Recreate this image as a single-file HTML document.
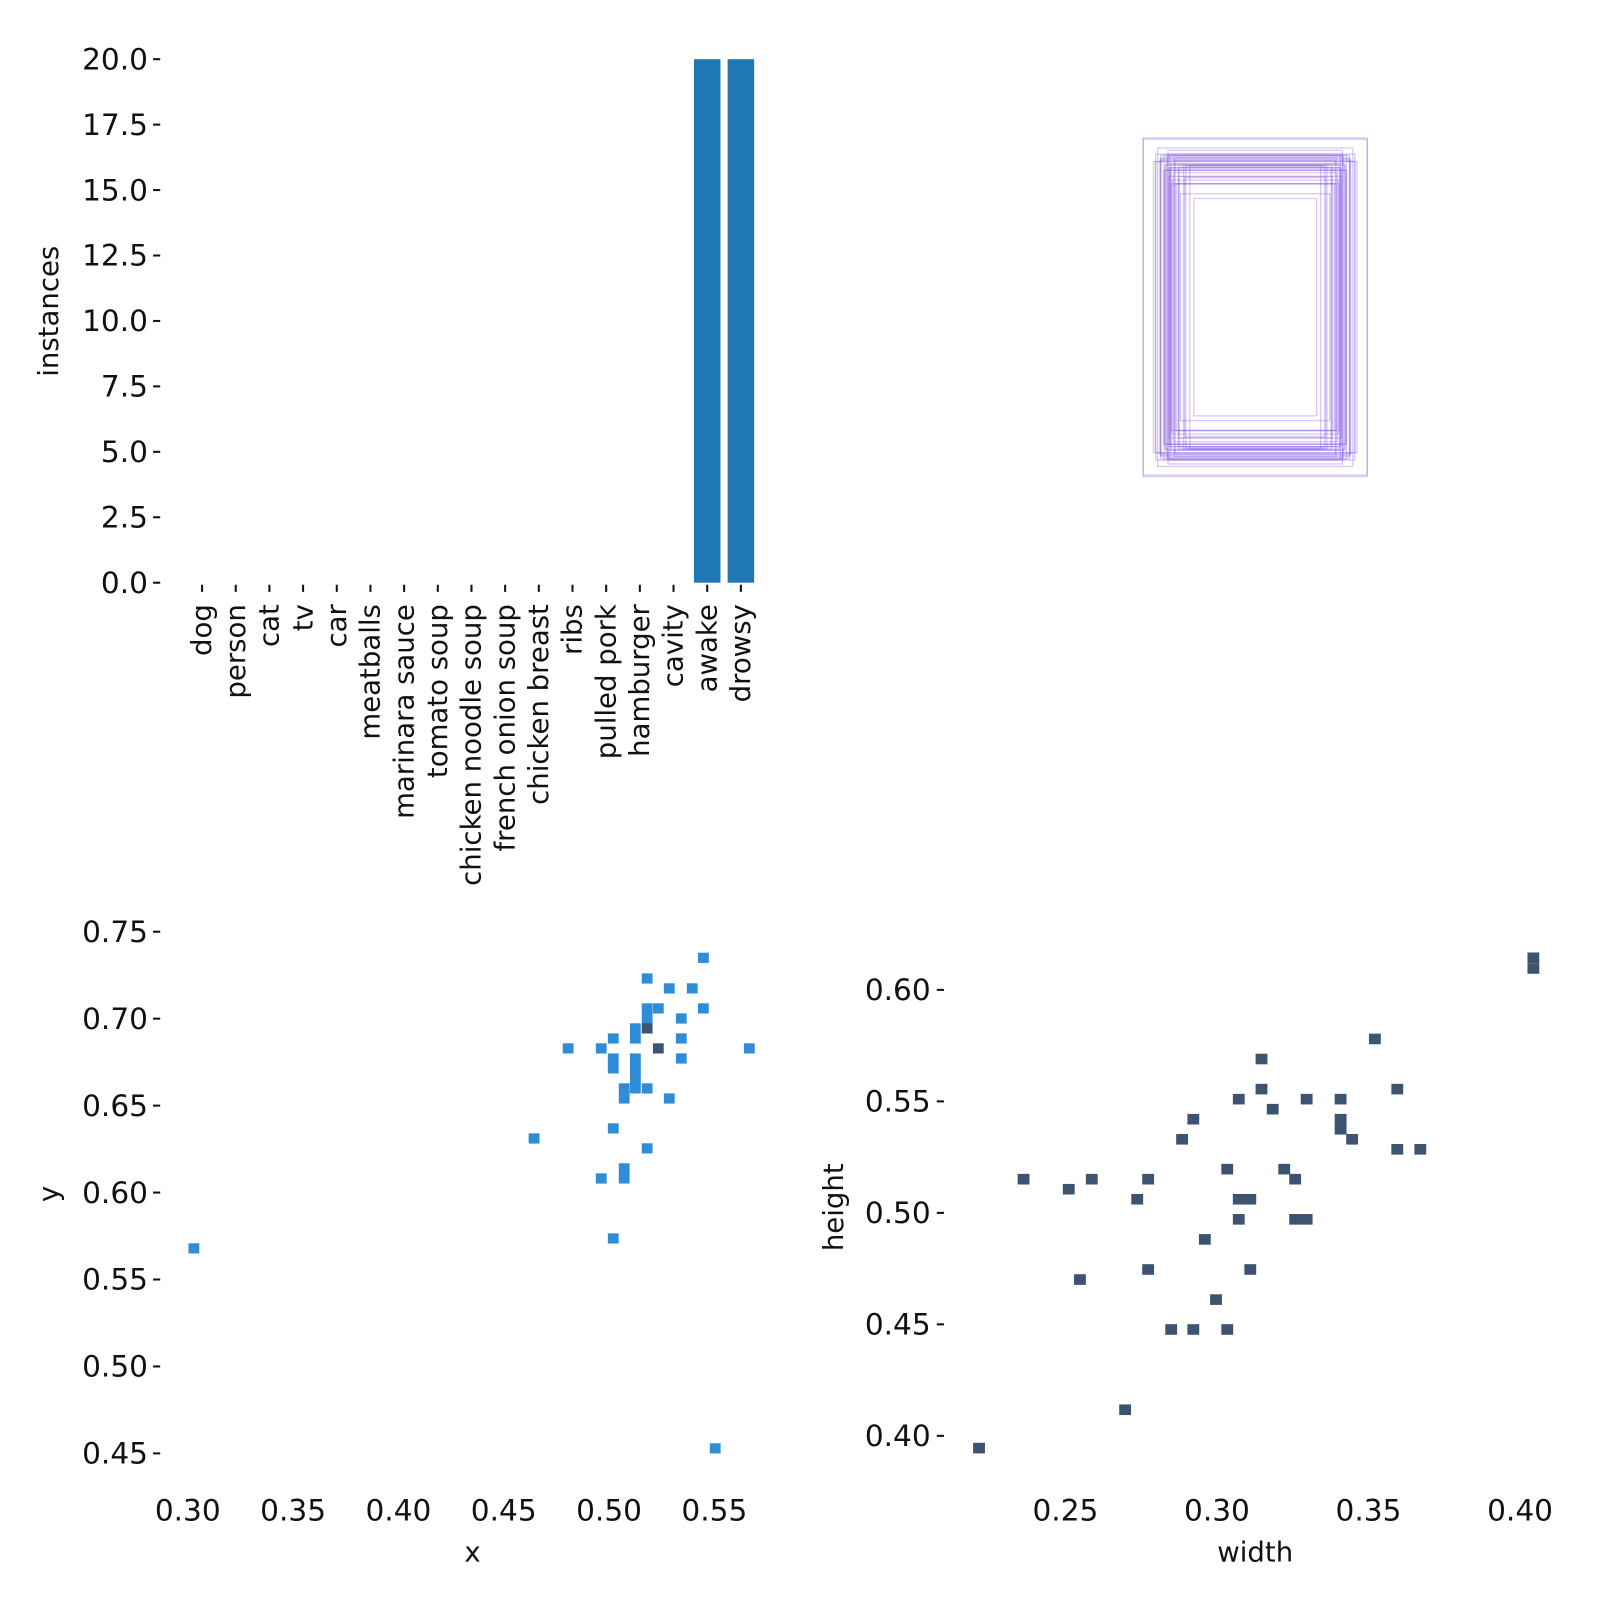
<!DOCTYPE html>
<html><head><meta charset="utf-8"><style>
html,body{margin:0;padding:0;background:#fff}
svg{display:block;font-family:"DejaVu Sans","Liberation Sans",sans-serif}
</style></head><body>
<svg width="1600" height="1600" viewBox="0 0 1600 1600"><g id="s" transform="scale(1.0205)"></g></svg>
<script>
// ---- bar chart data ----
const categories=["dog","person","cat","tv","car","meatballs","marinara sauce","tomato soup","chicken noodle soup","french onion soup","chicken breast","ribs","pulled pork","hamburger","cavity","awake","drowsy"];
const instances=[0,0,0,0,0,0,0,0,0,0,0,0,0,0,0,20,20];
const barYTicks=[0,2.5,5,7.5,10,12.5,15,17.5,20];
// ---- x/y histogram data ----
const xyX=[0.5448,0.5181,0.5286,0.5395,0.5181,0.5234,0.5448,0.5181,0.5343,0.5125,0.5181,0.5020,0.5125,0.5343,0.4806,0.4963,0.5234,0.5666,0.5020,0.5125,0.5343,0.5020,0.5125,0.5125,0.5072,0.5125,0.5181,0.5072,0.5286,0.5020,0.4644,0.5181,0.5072,0.4963,0.5072,0.5020,0.3029,0.5504];
const xyY=[0.7350,0.7231,0.7174,0.7174,0.7059,0.7059,0.7059,0.7001,0.7001,0.6944,0.6944,0.6886,0.6886,0.6886,0.6829,0.6829,0.6829,0.6829,0.6771,0.6771,0.6771,0.6714,0.6714,0.6656,0.6599,0.6599,0.6599,0.6541,0.6541,0.6369,0.6311,0.6254,0.6139,0.6081,0.6081,0.5736,0.5679,0.4529];
const xyCount=[1,1,1,1,1,1,1,1,1,1,2,1,1,1,1,1,2,1,1,1,1,1,1,1,1,1,1,1,1,1,1,1,1,1,1,1,1,1];
const xTicks=[0.30,0.35,0.40,0.45,0.50,0.55];
const yTicks=[0.45,0.50,0.55,0.60,0.65,0.70,0.75];
// ---- width/height histogram data ----
const whW=[0.4044,0.4044,0.3521,0.3147,0.3147,0.3595,0.3072,0.3296,0.3408,0.3184,0.2922,0.3408,0.3408,0.2885,0.3446,0.3595,0.3671,0.3034,0.3222,0.2362,0.2587,0.2773,0.3258,0.2511,0.2737,0.3072,0.3110,0.3072,0.3258,0.3296,0.2960,0.2773,0.3110,0.2548,0.2997,0.2849,0.2922,0.3034,0.2697,0.2215];
const whH=[0.6144,0.6096,0.5780,0.5690,0.5555,0.5555,0.5510,0.5510,0.5510,0.5465,0.5420,0.5420,0.5375,0.5330,0.5330,0.5285,0.5285,0.5196,0.5196,0.5151,0.5151,0.5151,0.5151,0.5106,0.5061,0.5061,0.5061,0.4971,0.4971,0.4971,0.4881,0.4746,0.4746,0.4701,0.4611,0.4477,0.4477,0.4477,0.4117,0.3945];
const wTicks=[0.25,0.30,0.35,0.40];
const hTicks=[0.40,0.45,0.50,0.55,0.60];

const S=document.getElementById('s');const NS='http://www.w3.org/2000/svg';
const NUM=29, WORD=27;
function mk(tag,at,parent){const e=document.createElementNS(NS,tag);for(const k in at)e.setAttribute(k,at[k]);(parent||S).appendChild(e);return e;}
function txt(x,y,s,anchor,extra,size){const t=mk('text',Object.assign({x:x,y:y,'font-size':size||WORD,fill:'#111','text-anchor':anchor||'middle'},extra||{}));t.textContent=s;return t;}

// ===== Bar chart =====
const bY=v=>571-(v/20)*513;
const bX=i=>198+i*33;
const g1=mk('g',{});


barYTicks.forEach(v=>{
  const l=mk('line',{x1:150,x2:157,y1:bY(v),y2:bY(v),stroke:'#111','stroke-width':2},g1);
  
  
  const t=txt(145,bY(v)+10,v.toFixed(1),'end',null,NUM);g1.appendChild(t);
  
  
});
categories.forEach((c,i)=>{
  if(instances[i]>0){
    const r=mk('rect',{x:bX(i)-13,y:bY(instances[i]),width:26,height:bY(0)-bY(instances[i]),fill:'#1f77b4'},g1);
    
    
  }
  const l=mk('line',{x1:bX(i),x2:bX(i),y1:573,y2:580,stroke:'#111','stroke-width':2},g1);
  
  
  const t=txt(0,0,c,'end',{transform:'translate('+(bX(i)+9)+',592) rotate(-90)'});g1.appendChild(t);
  
  
});
const yl=txt(0,0,'instances','middle',{transform:'translate(57,305) rotate(-90)'});



// ===== Boxes overlay =====
const g2=mk('g',{});


whW.forEach((w,i)=>{
  const bw=w*543,bh=whH[i]*540;
  const r=mk('rect',{x:1230-bw/2,y:301-bh/2,width:bw,height:bh,fill:'none',stroke:'#7e4fe0','stroke-opacity':0.3,'stroke-width':1.3},g2);
  
  
});

// ===== x/y histogram =====
const xX=v=>184+(v-0.30)*2064;
const xY=v=>913+(0.75-v)*1704;
const g3=mk('g',{});


xyX.forEach((v,i)=>{
  const r=mk('rect',{x:xX(v)-5.3,y:xY(xyY[i])-5,width:10.6,height:10,fill:xyCount[i]>1?'#3d5470':'#2e8dd6'},g3);
  
  
});
yTicks.forEach(v=>{
  const l=mk('line',{x1:150,x2:157,y1:xY(v),y2:xY(v),stroke:'#111','stroke-width':2},g3);
  
  
  const t=txt(145,xY(v)+10,v.toFixed(2),'end',null,NUM);g3.appendChild(t);
  
  
});
xTicks.forEach(v=>{
  const t=txt(xX(v),1490,v.toFixed(2),'middle',null,NUM);g3.appendChild(t);
  
  
});
const xt=txt(463,1530,'x');
const yt=txt(0,0,'y','middle',{transform:'translate(57,1170) rotate(-90)'});

// ===== width/height histogram =====
const wX=v=>1044+(v-0.25)*2970;
const hY=v=>1407-(v-0.40)*2185;
const g4=mk('g',{});


whW.forEach((v,i)=>{
  const r=mk('rect',{x:wX(v)-5.8,y:hY(whH[i])-5.2,width:11.6,height:10.4,fill:'#3d5470'},g4);
  
  
});
hTicks.forEach(v=>{
  const l=mk('line',{x1:918,x2:925,y1:hY(v),y2:hY(v),stroke:'#111','stroke-width':2},g4);
  
  
  const t=txt(912,hY(v)+10,v.toFixed(2),'end',null,NUM);g4.appendChild(t);
  
  
});
wTicks.forEach(v=>{
  const t=txt(wX(v),1490,v.toFixed(2),'middle',null,NUM);g4.appendChild(t);
  
  
});
const wt=txt(1230,1530,'width');
const ht=txt(0,0,'height','middle',{transform:'translate(826,1183) rotate(-90)'});
</script>
</body></html>
